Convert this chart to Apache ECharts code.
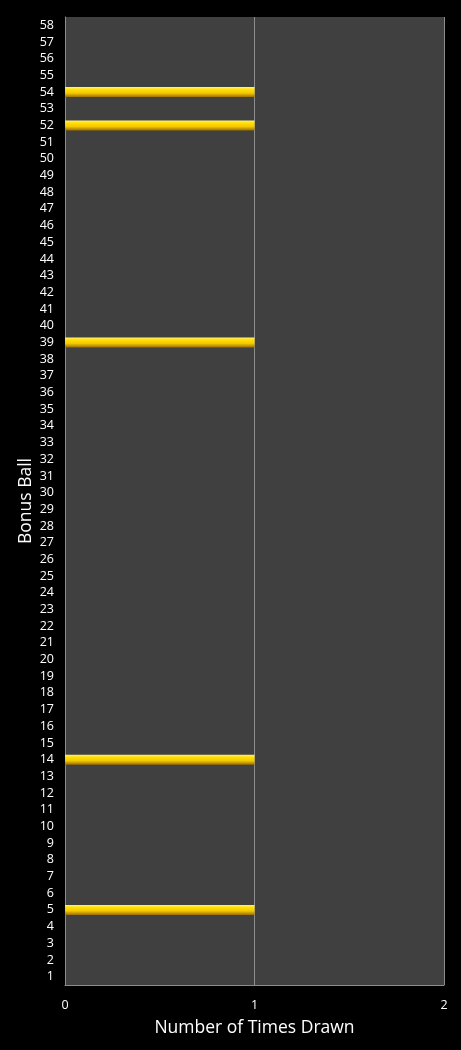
<!DOCTYPE html>
<html><head><meta charset="utf-8">
<script src="https://cdn.jsdelivr.net/npm/echarts@6/dist/echarts.min.js"></script>
<style>html,body{margin:0;padding:0;background:#000;}#c{width:461px;height:1050px;}</style>
</head><body><div id="c"></div>
<script>
var categories = [];
for (var i = 1; i <= 58; i++) categories.push(String(i));
var drawnBalls = ['5', '14', '39', '52', '54'];
var drawnCounts = [1, 1, 1, 1, 1];
var xTicks = [0, 1, 2];

var values = categories.map(function (c) {
  var k = drawnBalls.indexOf(c);
  return k >= 0 ? drawnCounts[k] : null;
});

var chart = echarts.init(document.getElementById('c'));
chart.setOption({
  backgroundColor: '#000000',
  animation: false,
  grid: { left: 65, right: 17, top: 17, bottom: 65, show: true, backgroundColor: '#404040', borderWidth: 0 },
  xAxis: {
    type: 'value', min: xTicks[0], max: xTicks[xTicks.length - 1], interval: 1,
    name: 'Number of Times Drawn', nameLocation: 'middle', nameGap: 34,
    nameTextStyle: { color: '#ffffff', fontSize: 17.5, fontFamily: 'Open Sans' },
    axisLine: { show: true, lineStyle: { color: '#8c8c8c', width: 1 } },
    axisTick: { show: false },
    axisLabel: { color: '#ffffff', fontSize: 12.5, fontFamily: 'Open Sans', margin: 14 },
    splitLine: { show: true, lineStyle: { color: '#8c8c8c', width: 1 } }
  },
  yAxis: {
    type: 'category', data: categories,
    name: 'Bonus Ball', nameLocation: 'middle', nameGap: 30, nameRotate: 90, nameMoveOverlap: false,
    nameTextStyle: { color: '#ffffff', fontSize: 17.5, fontFamily: 'Open Sans' },
    axisLine: { show: true, lineStyle: { color: '#8c8c8c', width: 1 } },
    axisTick: { show: false },
    axisLabel: { color: '#ffffff', fontSize: 12.5, fontFamily: 'Open Sans', interval: 0, margin: 11 },
    splitLine: { show: false }
  },
  series: [{
    type: 'bar', data: values, barWidth: 10,
    itemStyle: {
      color: new echarts.graphic.LinearGradient(0, 0, 0, 1, [
        { offset: 0, color: '#fff27a' },
        { offset: 0.25, color: '#ffe000' },
        { offset: 0.6, color: '#f5c800' },
        { offset: 1, color: '#9a7000' }
      ])
    }
  }]
});
</script></body></html>
